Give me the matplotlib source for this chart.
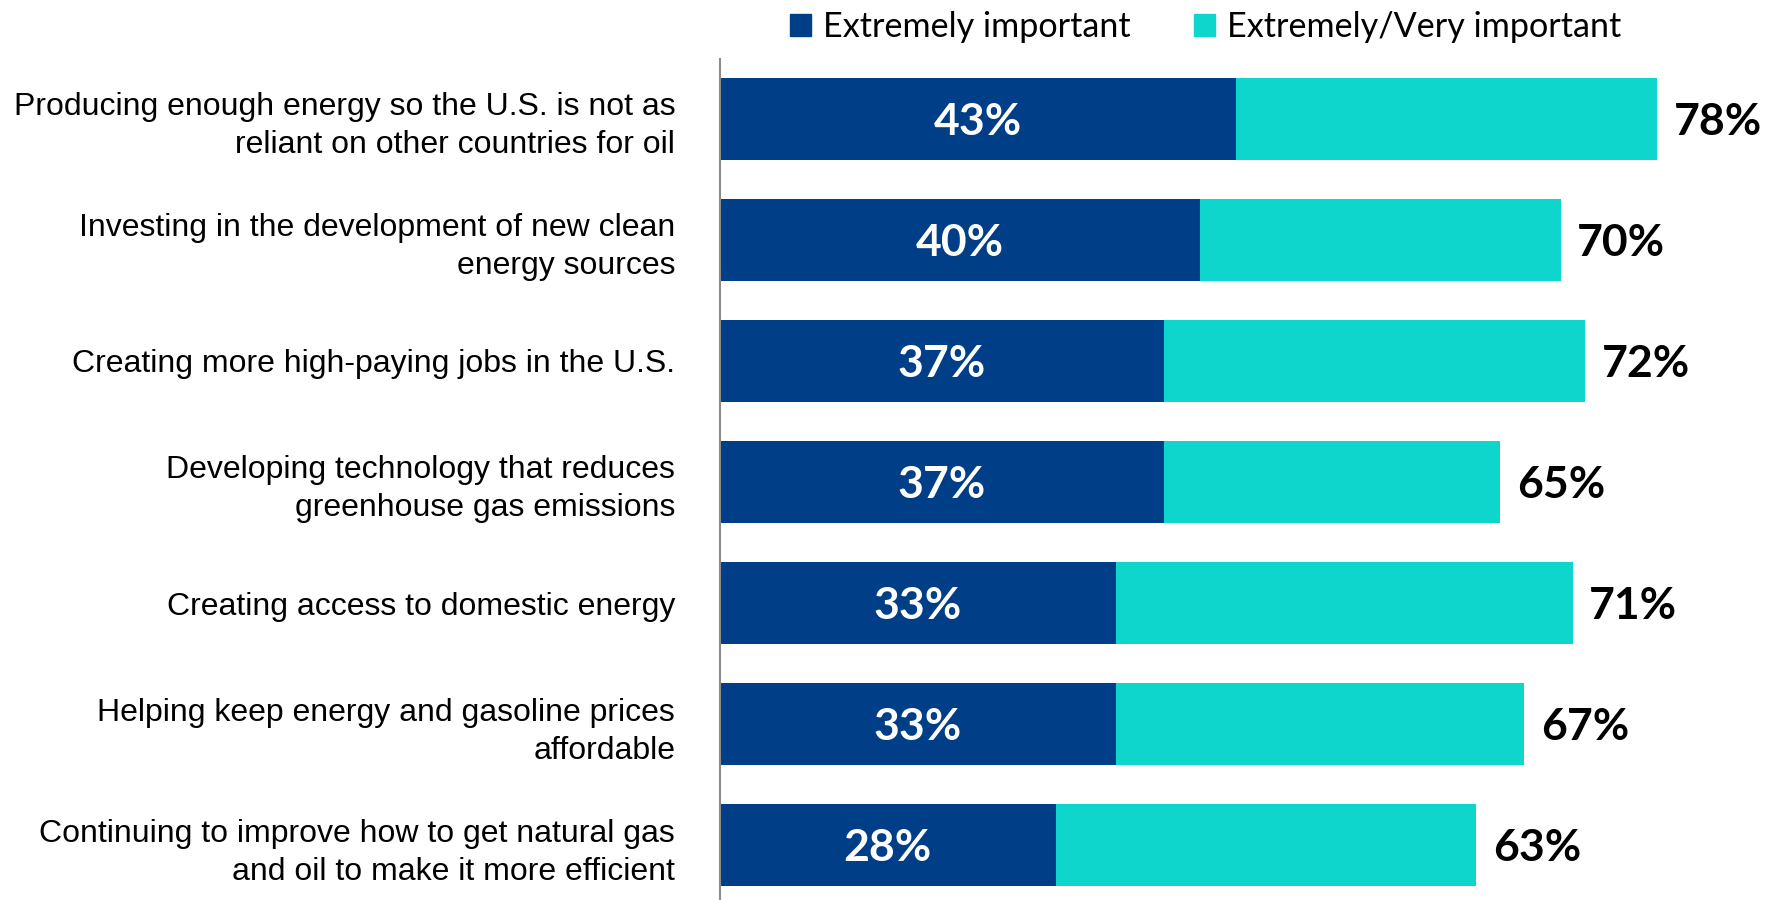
"""
Stacked/overlaid horizontal bars: importance of energy goals.
Writes: out.png
"""

import matplotlib
matplotlib.use("Agg")
import matplotlib.pyplot as plt
from matplotlib.patches import Patch
import numpy as np

categories = [
    "Producing enough energy so the U.S. is not as\nreliant on other countries for oil",
    "Investing in the development of new clean\nenergy sources",
    "Creating more high-paying jobs in the U.S.",
    "Developing technology that reduces\ngreenhouse gas emissions",
    "Creating access to domestic energy",
    "Helping keep energy and gasoline prices\naffordable",
    "Continuing to improve how to get natural gas\nand oil to make it more efficient",
]
extremely = [43, 40, 37, 37, 33, 33, 28]
extremely_very = [78, 70, 72, 65, 71, 67, 63]
series_names = ["Extremely important", "Extremely/Very important"]

DARK = "#003F87"
CYAN = "#0ED6CD"

fig = plt.figure(figsize=(17.9, 9), dpi=100)
ax = fig.add_axes([0.402, 0.0, 0.598, 0.934])

y = np.arange(len(categories))
ax.barh(y, extremely_very, height=0.68, color=CYAN)
ax.barh(y, extremely, height=0.68, color=DARK)

# labels (nudged down a touch so they sit centred like the original)
for i in range(len(categories)):
    ax.text(extremely[i] / 2, i + 0.025, f"{extremely[i]}%", ha="center", va="center",
            color="white", fontsize=32, fontweight="bold", family="Lato")
    ax.text(extremely_very[i] + 1.4, i + 0.025, f"{extremely_very[i]}%", ha="left", va="center",
            color="black", fontsize=32, fontweight="bold", family="Lato")

ax.set_xlim(0, 89.1)
ax.set_ylim(6.453, -0.49)
ax.set_yticks(y)
ax.set_yticklabels(categories, fontsize=23, family="Liberation Sans",
                   linespacing=1.35, ha="right")
ax.tick_params(axis="y", length=0, pad=32)
ax.set_xticks([])
for s in ["top", "right", "bottom"]:
    ax.spines[s].set_visible(False)
ax.spines["left"].set_color("#8C8C8C")
ax.spines["left"].set_linewidth(1.5)

handles = [Patch(color=DARK), Patch(color=CYAN)]
fig.legend(handles, series_names, loc="upper left", bbox_to_anchor=(0.424, 1.022),
           ncol=2, frameon=False, prop={"family": "Lato", "size": 24.6},
           handlelength=0.62, handleheight=0.62, handletextpad=0.35, columnspacing=1.85)

fig.savefig("out.png", dpi=100)
plt.close(fig)
